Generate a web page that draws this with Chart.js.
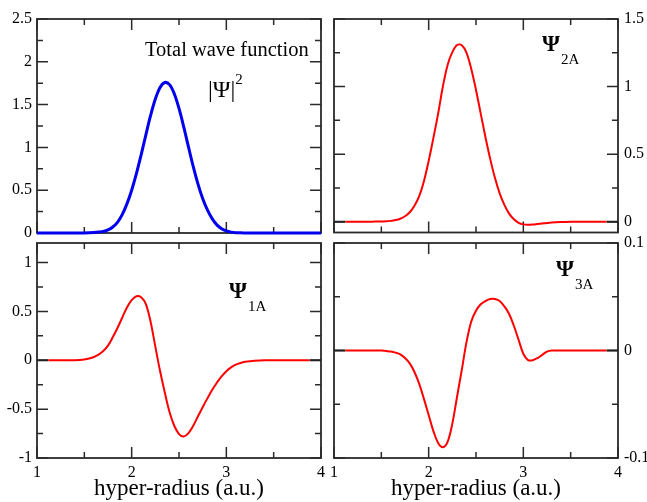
<!DOCTYPE html>
<html>
<head>
<meta charset="utf-8">
<script src="https://cdn.jsdelivr.net/npm/chart.js@4.4.1/dist/chart.umd.min.js"></script>
<style>
  body { margin: 0; background: #fff; }
  #wrap { position: relative; width: 647px; height: 502px; overflow: hidden; font-family: "Liberation Serif", "Times New Roman", serif; color: #000; }
  canvas { position: absolute; left: 0; top: 0; }
  .lbl { position: absolute; white-space: nowrap; line-height: 1; }
  .psi { font-weight: bold; font-size: 23px; }
  .psi span { font-weight: normal; font-size: 15px; position: relative; top: 13px; margin-left: 1px; }
  .xt { position: absolute; text-align: center; font-size: 23px; line-height: 1; }
</style>
</head>
<body>
<div id="wrap">
  <canvas id="tl" width="647" height="502"></canvas>
  <canvas id="tr" width="647" height="502"></canvas>
  <canvas id="bl" width="647" height="502"></canvas>
  <canvas id="br" width="647" height="502"></canvas>

  <div class="lbl" style="left:145px;top:39px;font-size:20.5px">Total wave function</div>
  <div class="lbl" style="left:208px;top:77px;font-size:24px">|Ψ|<span style="font-size:15px;position:relative;top:-13px">2</span></div>
  <div class="lbl psi" style="left:542px;top:32px">Ψ<span>2A</span></div>
  <div class="lbl psi" style="left:229px;top:279px">Ψ<span>1A</span></div>
  <div class="lbl psi" style="left:556px;top:257px">Ψ<span>3A</span></div>

  <div class="xt" style="left:37px;width:284px;top:476px">hyper-radius (a.u.)</div>
  <div class="xt" style="left:334px;width:284px;top:476px">hyper-radius (a.u.)</div>
</div>

<script>
const W = 647, H = 502;

// hyper-radius grid shared by all curves
const xs = [1, 1.12, 1.3, 1.4, 1.45, 1.5, 1.55, 1.6, 1.65, 1.7, 1.75, 1.8, 1.85, 1.9, 1.95,
  2, 2.05, 2.1, 2.15, 2.2, 2.25, 2.3, 2.35, 2.4, 2.45, 2.5, 2.55, 2.6, 2.65, 2.7, 2.75,
  2.8, 2.85, 2.9, 2.95, 3, 3.05, 3.1, 3.15, 3.2, 3.25, 3.3, 3.4, 3.5, 3.6, 3.7, 3.88, 4];

// |Psi|^2 (total wave function)
const psiSq = [0, 0, 0, 0, 0, 0.001, 0.003, 0.006, 0.011, 0.018, 0.036, 0.07, 0.125, 0.215, 0.34,
  0.50, 0.693, 0.913, 1.147, 1.373, 1.565, 1.70, 1.758, 1.733, 1.627, 1.455, 1.24, 1.006, 0.778, 0.574, 0.402,
  0.269, 0.168, 0.095, 0.05, 0.024, 0.01, 0.004, 0.002, 0.001, 0, 0, 0, 0, 0, 0, 0, 0];

// Psi_2A
const psi2A = [null, 0, 0, 0, 0.001, 0.002, 0.003, 0.006, 0.012, 0.022, 0.04, 0.07, 0.118, 0.19, 0.30,
  0.45, 0.62, 0.80, 1.0, 1.16, 1.255, 1.308, 1.306, 1.25, 1.13, 0.975, 0.80, 0.625, 0.465, 0.325, 0.21,
  0.125, 0.06, 0.018, -0.008, -0.02, -0.023, -0.021, -0.017, -0.013, -0.009, -0.006, -0.003, -0.001, 0, 0, 0, null];

// Psi_1A
const psi1A = [null, 0, 0, 0.001, 0.003, 0.008, 0.018, 0.033, 0.058, 0.095, 0.15, 0.235, 0.33, 0.435, 0.54,
  0.615, 0.655, 0.645, 0.575, 0.395, 0.14, -0.11, -0.33, -0.53, -0.67, -0.755, -0.78, -0.745, -0.67, -0.575, -0.48,
  -0.39, -0.305, -0.23, -0.165, -0.112, -0.072, -0.045, -0.028, -0.016, -0.009, -0.005, -0.001, 0, 0, 0, 0, null];

// Psi_3A
const psi3A = [null, 0, 0, 0, 0, 0, -0.0005, -0.001, -0.002, -0.0035, -0.007, -0.012, -0.02, -0.031, -0.045,
  -0.06, -0.075, -0.086, -0.09, -0.085, -0.068, -0.043, -0.018, 0.008, 0.027, 0.037, 0.043, 0.046, 0.048, 0.048, 0.046,
  0.041, 0.034, 0.023, 0.01, -0.003, -0.009, -0.009, -0.007, -0.004, -0.001, 0, 0, 0, 0, 0, 0, null];

// short black end pieces of the zero line (outside the computed range)
const zeroLeft = [1, 1.12];
const zeroRight = [3.88, 4];

// tick marks
const xMajor = [1, 2, 3, 4];
const xMinor = [1.5, 2.5, 3.5];
const yMajorTL = [0, 0.5, 1, 1.5, 2, 2.5];
const yMinorTL = [0.25, 0.75, 1.25, 1.75, 2.25];
const yMajorTR = [0, 0.5, 1, 1.5];
const yMinorTR = [0.25, 0.75, 1.25];
const yMajorBL = [-1, -0.5, 0, 0.5, 1];
const yMinorBL = [-0.75, -0.25, 0.25, 0.75];
const yMajorBR = [-0.1, 0, 0.1];
const yMinorBR = [-0.05, 0.05];

const tickFont = { family: '"Liberation Serif", "Times New Roman", serif', size: 16 };

function pts(ys) {
  return xs.map((x, i) => ({ x: x, y: ys[i] }));
}

// frame box and inward ticks on all four sides
const frameTicks = {
  id: 'frameTicks',
  beforeDatasetsDraw(chart, args, opts) {
    const a = chart.chartArea, ctx = chart.ctx;
    const sx = chart.scales.x, sy = chart.scales.y;
    ctx.save();
    ctx.strokeStyle = '#2a2a2a';
    ctx.lineWidth = 1.5;
    ctx.beginPath();
    xMajor.concat(xMinor).forEach(v => {
      const p = sx.getPixelForValue(v);
      const len = xMajor.includes(v) ? 11 : 6;
      ctx.moveTo(p, a.bottom); ctx.lineTo(p, a.bottom - len);
      ctx.moveTo(p, a.top); ctx.lineTo(p, a.top + len);
    });
    opts.yMajor.concat(opts.yMinor).forEach(v => {
      const p = sy.getPixelForValue(v);
      const len = opts.yMajor.includes(v) ? 11 : 6;
      ctx.moveTo(a.left, p); ctx.lineTo(a.left + len, p);
      ctx.moveTo(a.right, p); ctx.lineTo(a.right - len, p);
    });
    ctx.stroke();
    ctx.lineWidth = 1.8;
    ctx.strokeRect(a.left, a.top, a.right - a.left, a.bottom - a.top);
    ctx.restore();
  }
};

function panel(id, box, opt) {
  const left = opt.side === 'left';
  const yWidth = left ? box[0] : W - box[2];
  const xHeight = opt.showX ? H - box[3] : 0;
  new Chart(document.getElementById(id), {
    type: 'line',
    data: { datasets: opt.datasets },
    options: {
      responsive: false,
      animation: false,
      layout: {
        padding: {
          left: left ? 0 : box[0],
          right: left ? W - box[2] : 0,
          top: box[1],
          bottom: opt.showX ? 0 : H - box[3]
        }
      },
      plugins: {
        legend: { display: false },
        tooltip: { enabled: false },
        frameTicks: { yMajor: opt.yMajor, yMinor: opt.yMinor }
      },
      elements: { point: { radius: 0 }, line: { tension: 0.35 } },
      scales: {
        x: {
          type: 'linear', min: 1, max: 4,
          grid: { display: false, drawTicks: false }, border: { display: false },
          afterBuildTicks: s => { s.ticks = xMajor.map(v => ({ value: v })); },
          afterFit: s => { s.height = xHeight; },
          ticks: { display: opt.showX, padding: 5, color: '#000', font: tickFont, maxRotation: 0, autoSkip: false, callback: v => String(v) }
        },
        y: {
          type: 'linear', position: opt.side, min: opt.min, max: opt.max,
          grid: { display: false, drawTicks: false }, border: { display: false },
          afterBuildTicks: s => { s.ticks = opt.yMajor.map(v => ({ value: v })); },
          afterFit: s => { s.width = yWidth; },
          ticks: { padding: left ? 5 : 6, color: '#000', font: tickFont, autoSkip: false, callback: v => String(v) }
        }
      }
    },
    plugins: [frameTicks]
  });
}

function redSet(ys) {
  return [
    { data: pts(ys), borderColor: '#ff0000', borderWidth: 2 },
    { data: zeroLeft.map(x => ({ x: x, y: 0 })), borderColor: '#222', borderWidth: 2 },
    { data: zeroRight.map(x => ({ x: x, y: 0 })), borderColor: '#222', borderWidth: 2 }
  ];
}

panel('tl', [37, 19, 321, 233], {
  side: 'left', min: 0, max: 2.5, yMajor: yMajorTL, yMinor: yMinorTL, showX: false,
  datasets: [{ data: pts(psiSq), borderColor: '#0000ee', borderWidth: 3, clip: false }]
});
panel('tr', [334, 19, 618, 232.5], {
  side: 'right', min: -0.08, max: 1.5, yMajor: yMajorTR, yMinor: yMinorTR, showX: false,
  datasets: redSet(psi2A)
});
panel('bl', [37, 243, 321, 458], {
  side: 'left', min: -1, max: 1.2, yMajor: yMajorBL, yMinor: yMinorBL, showX: true,
  datasets: redSet(psi1A)
});
panel('br', [334, 243, 618, 458], {
  side: 'right', min: -0.1, max: 0.1, yMajor: yMajorBR, yMinor: yMinorBR, showX: true,
  datasets: redSet(psi3A)
});
</script>
</body>
</html>
